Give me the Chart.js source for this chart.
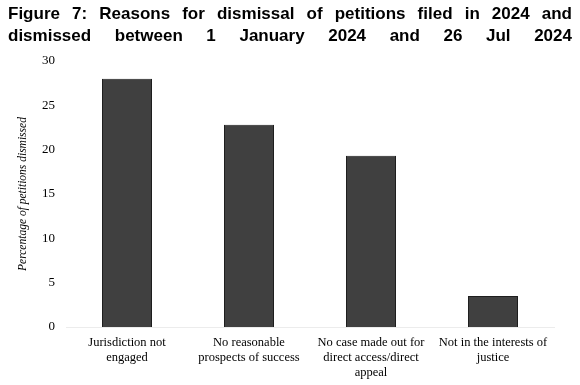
<!DOCTYPE html>
<html lang="en">
<head>
    <meta charset="UTF-8">
    <title>Figure 7</title>
    <script src="https://cdn.jsdelivr.net/npm/chart.js"></script>
    <style>
        body { margin: 0; background: #fff; }
        .wrap { position: relative; width: 580px; height: 385px; }
        .title {
            position: absolute; left: 8px; top: 3px; width: 564px;
            font: bold 17px "Liberation Sans", Arial, sans-serif;
            line-height: 22px; color: #000;
        }
        .title div { text-align: justify; text-align-last: justify; }
        canvas { position: absolute; left: 0; top: 0; }
    </style>
</head>
<body>
    <div class="wrap">
        <canvas id="chart" width="580" height="385"></canvas>
        <div class="title">
            <div>Figure 7: Reasons for dismissal of petitions filed in 2024 and</div>
            <div>dismissed between 1 January 2024 and 26 Jul 2024</div>
        </div>
    </div>

    <script>
        const reasons = [
            ['Jurisdiction not', 'engaged'],
            ['No reasonable', 'prospects of success'],
            ['No case made out for', 'direct access/direct', 'appeal'],
            ['Not in the interests of', 'justice']
        ];
        const percentDismissed = [28.0, 22.8, 19.3, 3.5];
        const yTicks = [0, 5, 10, 15, 20, 25, 30];

        const serif = '"Liberation Serif", "Times New Roman", serif';

        new Chart(document.getElementById('chart'), {
            type: 'bar',
            data: {
                labels: reasons,
                datasets: [{
                    data: percentDismissed,
                    backgroundColor: '#404040',
                    borderColor: '#1e1e1e',
                    borderWidth: 1,
                    categoryPercentage: 1,
                    barPercentage: 0.41
                }]
            },
            options: {
                responsive: false,
                animation: false,
                layout: { padding: { top: 61, right: 26, left: 0, bottom: 0 } },
                plugins: { legend: { display: false }, tooltip: { enabled: false } },
                scales: {
                    x: {
                        grid: { display: false, drawTicks: false },
                        border: { color: '#ececec', width: 1 },
                        ticks: {
                            color: '#000', maxRotation: 0, autoSkip: false, padding: 8,
                            font: { family: serif, size: 12.5 }
                        },
                        afterFit: s => { s.height = 58; }
                    },
                    y: {
                        min: 0, max: 30,
                        grid: { display: false, drawTicks: false },
                        border: { display: false },
                        afterBuildTicks: s => { s.ticks = yTicks.map(v => ({ value: v })); },
                        ticks: {
                            color: '#000', padding: 11,
                            font: { family: serif, size: 13 }
                        },
                        title: {
                            display: true,
                            text: 'Percentage of petitions dismissed',
                            color: '#000',
                            padding: { top: 16, bottom: 0 },
                            font: { family: serif, size: 11.5, style: 'italic' }
                        },
                        afterFit: s => { s.width = 66; }
                    }
                }
            }
        });
    </script>
</body>
</html>
